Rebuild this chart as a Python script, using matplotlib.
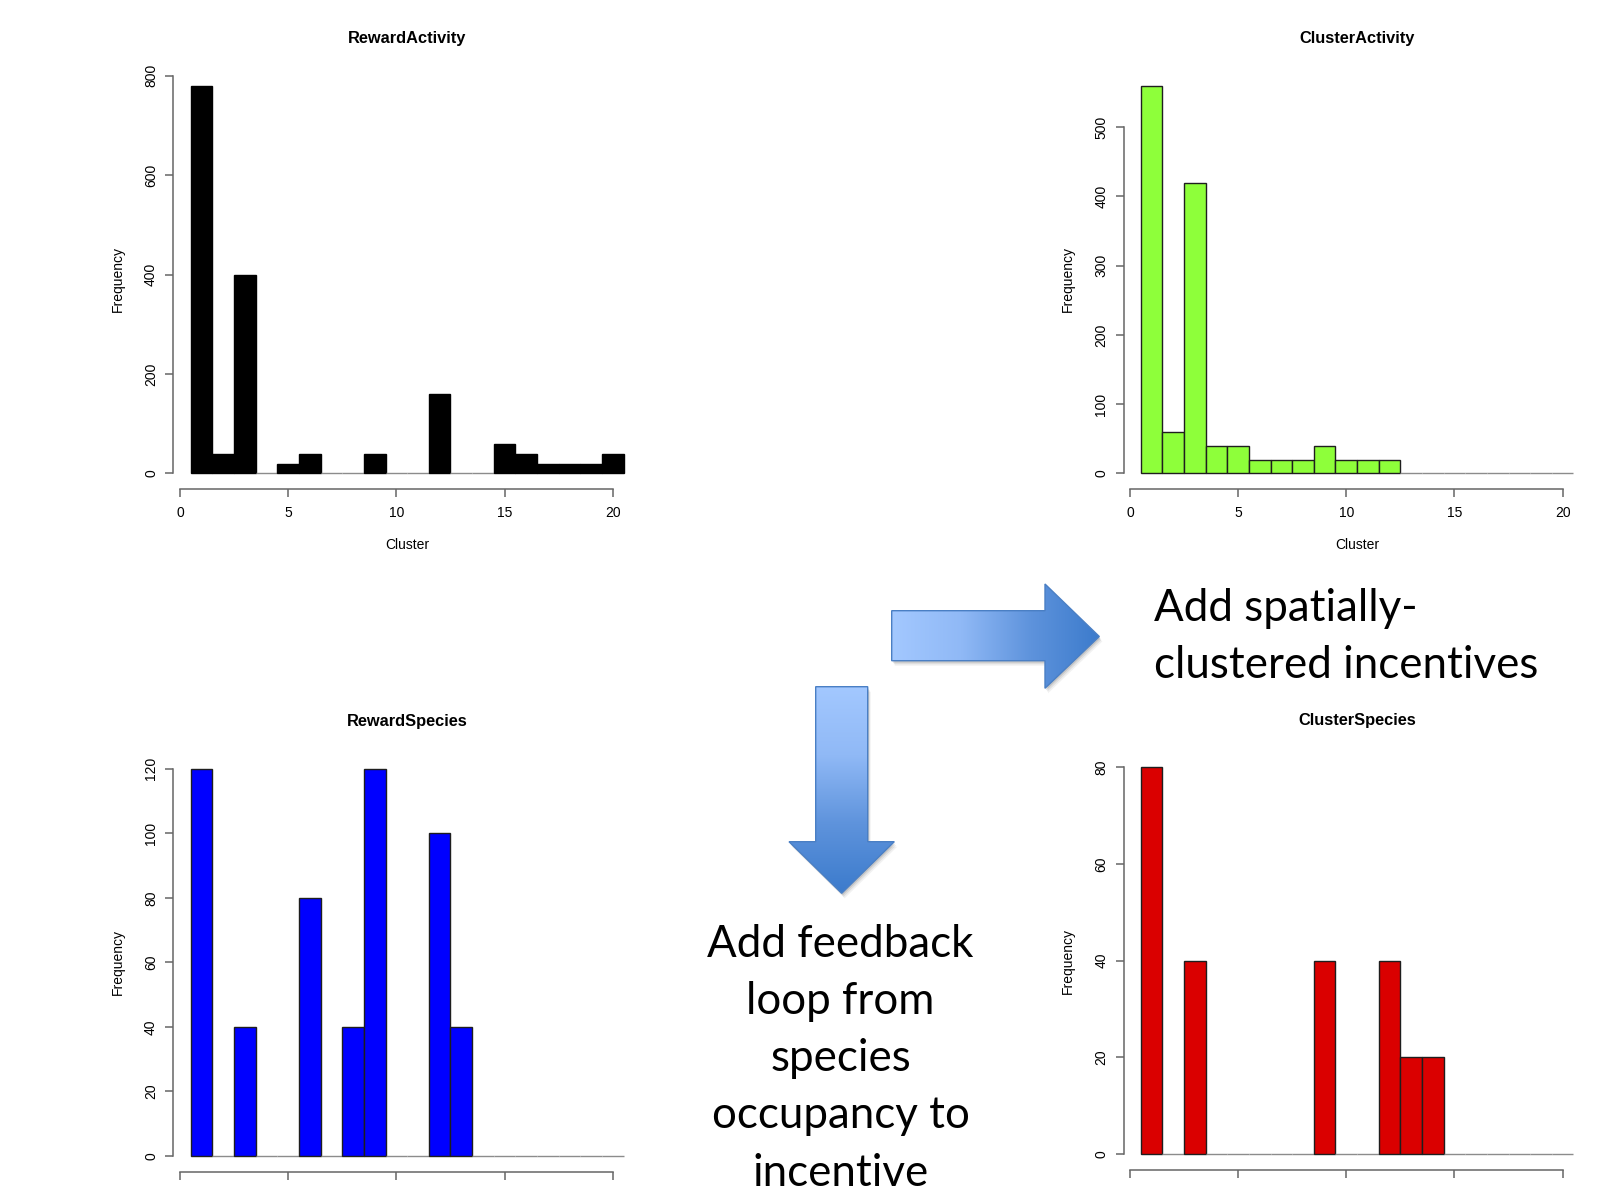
import matplotlib
matplotlib.use('Agg')
import matplotlib.pyplot as plt
import numpy as np
from matplotlib.patches import Polygon
from matplotlib.colors import LinearSegmentedColormap

# histogram counts per cluster
clusters = np.arange(1, 21)
reward_activity = [780, 40, 400, 0, 20, 40, 0, 0, 40, 0, 0, 160, 0, 0, 60, 40, 20, 20, 20, 40]
cluster_activity = [560, 60, 420, 40, 40, 20, 20, 20, 40, 20, 20, 20, 0, 0, 0, 0, 0, 0, 0, 0]
reward_species = [120, 0, 40, 0, 0, 80, 0, 40, 120, 0, 0, 100, 40, 0, 0, 0, 0, 0, 0, 0]
cluster_species = [80, 0, 40, 0, 0, 0, 0, 0, 40, 0, 0, 40, 20, 20, 0, 0, 0, 0, 0, 0]

x_ticks = [0, 5, 10, 15, 20]
ra_yticks = [0, 200, 400, 600, 800]
ca_yticks = [0, 100, 200, 300, 400, 500]
rs_yticks = [0, 20, 40, 60, 80, 100, 120]
cs_yticks = [0, 20, 40, 60, 80]

right_text = ['Add spatially-', 'clustered incentives']
down_text = ['Add feedback', 'loop from', 'species', 'occupancy to', 'incentive']

W, H = 1603, 1188
fig = plt.figure(figsize=(W / 100, H / 100), dpi=100)
fig.patch.set_facecolor('white')

AXIS_COL = '#666666'
LABEL_FONT = 'Liberation Sans'


def hist_panel(box, title, counts, color, yticks, show_x=True):
    left, top, right, bottom = box
    ax = fig.add_axes([left / W, 1 - bottom / H, (right - left) / W, (bottom - top) / H])
    ax.patch.set_alpha(0)
    # the bottom row is cropped just under the tick marks, like the slide
    edges = ['black' if c > 0 else '#8c8c8c' for c in counts]
    if color != 'black':
        edges = ['#1e1e1e' if c > 0 else '#8c8c8c' for c in counts]
    ax.bar(clusters, counts, width=1.0, color=color, edgecolor=edges, linewidth=1.0)
    ymax = max(counts)
    ax.set_xlim(-0.3, 21.3)
    ax.set_ylim(-0.04 * ymax, 1.04 * ymax)
    ax.set_xticks(x_ticks)
    ax.set_yticks(yticks)
    for s in ['top', 'right']:
        ax.spines[s].set_visible(False)
    ax.spines['left'].set_bounds(yticks[0], yticks[-1])
    ax.spines['bottom'].set_bounds(x_ticks[0], x_ticks[-1])
    for s in ['left', 'bottom']:
        ax.spines[s].set_color(AXIS_COL)
        ax.spines[s].set_linewidth(1.1)
    ax.tick_params(direction='out', length=5.5, width=1.1, color=AXIS_COL,
                   labelsize=10, labelfontfamily=LABEL_FONT)
    ax.tick_params(axis='x', pad=6.5, labelbottom=show_x)
    ax.tick_params(axis='y', pad=5.5, labelrotation=90)
    for lab in ax.get_yticklabels():
        lab.set_va('center')
    ax.annotate(title, xy=(0.5, 1), xycoords='axes fraction', xytext=(0, 23),
                textcoords='offset points', ha='center', va='center',
                fontsize=11.8, fontweight='bold', family=LABEL_FONT)
    if show_x:
        ax.annotate('Cluster', xy=(0.5, 0), xycoords='axes fraction', xytext=(0, -40.5),
                    textcoords='offset points', ha='center', va='center',
                    fontsize=10, family=LABEL_FONT)
    ax.annotate('Frequency', xy=(0, 0.5), xycoords='axes fraction', xytext=(-40, 0),
                textcoords='offset points', ha='center', va='center', rotation=90,
                fontsize=10, family=LABEL_FONT)
    return ax


# overlay in pixel coordinates for the arrows and slide text
ov = fig.add_axes([0, 0, 1, 1], zorder=0)
ov.axis('off')
ov.patch.set_alpha(0)

hist_panel((173.4, 70, 640.9, 489), 'RewardActivity', reward_activity, 'black', ra_yticks)
hist_panel((1123.5, 70, 1590.7, 489), 'ClusterActivity', cluster_activity, '#8EFF3A', ca_yticks)
hist_panel((173.4, 753.3, 640.9, 1171.5), 'RewardSpecies', reward_species, '#0000FF',
           rs_yticks, show_x=False)
hist_panel((1123.5, 752, 1590.7, 1169.5), 'ClusterSpecies', cluster_species, '#DA0000',
           cs_yticks, show_x=False)

grad = LinearSegmentedColormap.from_list('ppt', ['#A3C8FF', '#90B9F6', '#5E93DC', '#3C7BCC'])

right_arrow = [(891.7, 610.7), (1045, 610.7), (1045, 584), (1099.3, 636.5),
               (1045, 688.3), (1045, 660.7), (891.7, 660.7)]
down_arrow = [(815.7, 686.7), (867.7, 686.7), (867.7, 841.7), (894.3, 841.7),
              (841.7, 893.3), (789, 841.7), (815.7, 841.7)]


def block_arrow(pts, horizontal):
    pts = np.array(pts)
    for k, a in zip([5, 3.5, 2], [0.08, 0.12, 0.18]):
        ov.add_patch(Polygon(pts + [k * 0.6, k], closed=True, facecolor='#555555',
                             edgecolor='none', alpha=a))
    x0, y0 = pts.min(axis=0)
    x1, y1 = pts.max(axis=0)
    g = np.linspace(0, 1, 256)
    arr = g[None, :] if horizontal else g[:, None]
    im = ov.imshow(arr, cmap=grad, extent=(x0, x1, y1, y0), origin='upper',
                   aspect='auto', zorder=2)
    poly = Polygon(pts, closed=True, facecolor='none', edgecolor='#4A7FC4',
                   linewidth=1.0, zorder=3)
    ov.add_patch(poly)
    im.set_clip_path(poly)


block_arrow(right_arrow, True)
block_arrow(down_arrow, False)

for i, line in enumerate(right_text):
    ov.text(1154, 621 + 57.2 * i, line, ha='left', va='baseline',
            fontsize=31.6, family='Lato', color='black')
for i, line in enumerate(down_text):
    ov.text(840.5, 956.7 + 57.2 * i, line, ha='center', va='baseline',
            fontsize=31.6, family='Lato', color='black')

ov.set_xlim(0, W)
ov.set_ylim(H, 0)

fig.savefig('out.png', dpi=100)
